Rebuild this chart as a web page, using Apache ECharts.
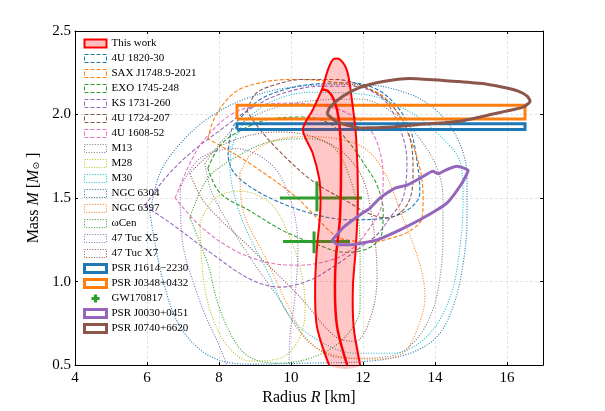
<!DOCTYPE html>
<html>
<head>
<meta charset="utf-8">
<script src="https://cdn.jsdelivr.net/npm/echarts@6/dist/echarts.min.js"></script>
<style>
html, body { margin: 0; padding: 0; background: #fff; }
#chart { width: 605px; height: 411px; }
</style>
</head>
<body>
<div id="chart"></div>
<script>
// contours, [radius km, mass Msun]
const u1820 = [[8.25,1.754],[8.36,1.914],[8.64,1.99],[9.14,2.09],[9.83,2.15],[10.53,2.18],[11.64,2.19],[12.39,2.15],[12.94,2.05],[13.31,1.914],[13.5,1.72],[13.58,1.53],[13.31,1.44],[12.67,1.38],[11.64,1.37],[10.53,1.41],[9.42,1.5],[8.72,1.59],[8.36,1.67]]
const sax1748 = [[7.69,1.855],[7.89,1.985],[8.44,2.133],[9.19,2.192],[10.03,2.21],[11.28,2.192],[12.39,2.133],[12.94,2.015],[13.31,1.855],[13.58,1.678],[13.67,1.5],[13.64,1.38],[13.31,1.305],[12.83,1.263],[12.19,1.234],[11.64,1.246],[11.22,1.275],[10.17,1.5],[8.94,1.695],[8.03,1.814]]
const exo1745 = [[7.69,1.678],[8.03,1.814],[8.58,1.902],[9.42,1.973],[10.33,1.985],[11.08,1.944],[11.64,1.825],[12.06,1.695],[12.39,1.577],[12.56,1.423],[12.53,1.293],[12.19,1.204],[11.5,1.175],[10.72,1.222],[9.78,1.305],[8.86,1.423],[8.03,1.53]]
const ks1731 = [[5.94,1.453],[6.5,1.618],[7.19,1.766],[8.08,1.914],[8.86,2.033],[9.69,2.121],[10.81,2.169],[11.72,2.169],[12.56,2.092],[13.03,1.914],[13.22,1.719],[13.11,1.5],[12.75,1.382],[12.39,1.281],[11.92,1.204],[11.28,1.104],[10.53,1.009],[9.69,0.967],[8.86,1.015],[7.75,1.175],[6.64,1.352]]
const u1724 = [[8.78,2.021],[9.0,2.121],[9.42,2.169],[10.33,2.21],[11.22,2.21],[12.19,2.151],[12.89,2.033],[13.31,1.855],[13.39,1.648],[13.31,1.5],[13.03,1.411],[12.61,1.382],[12.06,1.417],[11.64,1.47],[10.61,1.6],[9.69,1.778],[9.08,1.926]]
const u1608 = [[6.78,1.5],[7.19,1.707],[7.61,1.855],[8.36,2.003],[9.14,2.056],[9.97,2.068],[11.08,2.044],[11.72,1.991],[12.19,1.914],[12.47,1.778],[12.56,1.618],[12.53,1.47],[12.19,1.322],[11.64,1.186],[11.17,1.133],[10.25,1.098],[9.33,1.115],[8.39,1.192],[7.47,1.334]]
const m13 = [[7.61,1.707],[8.58,1.944],[10.25,2.074],[11.92,2.092],[12.89,2.003],[13.58,1.855],[14.06,1.678],[14.22,1.5],[14.22,1.263],[14.14,1.027],[13.92,0.82],[13.44,0.642],[12.75,0.553],[11.78,0.541],[11.0,0.565],[10.25,0.7],[9.69,0.89],[8.86,1.145],[7.83,1.518]]
const m28 = [[7.47,1.352],[7.89,1.5],[8.58,1.541],[9.42,1.47],[9.97,1.263],[10.31,1.027],[10.39,0.82],[10.19,0.642],[9.69,0.541],[8.86,0.524],[8.25,0.612],[7.81,0.79],[7.56,1.027]]
const m30 = [[8.72,1.962],[8.39,1.825],[8.31,1.678],[8.5,1.459],[8.86,1.263],[9.33,1.068],[9.97,0.79],[10.81,0.642],[11.78,0.571],[12.83,0.571],[13.78,0.672],[14.42,0.908],[14.69,1.204],[14.78,1.5],[14.69,1.719],[14.22,1.855],[13.31,2.015],[12.0,2.121],[10.53,2.133],[9.42,2.074]]
const ngc6304 = [[6.08,1.411],[6.36,1.648],[6.92,1.825],[7.75,1.985],[8.86,2.104],[10.25,2.169],[11.92,2.18],[13.31,2.121],[14.14,2.003],[14.69,1.825],[14.89,1.618],[14.89,1.382],[14.78,1.104],[14.5,0.849],[14.06,0.672],[13.31,0.571],[12.19,0.524],[10.53,0.512],[8.86,0.506],[7.75,0.553],[6.92,0.731],[6.42,1.027]]
const ngc6397 = [[8.58,1.648],[8.86,1.754],[9.42,1.837],[10.33,1.867],[11.28,1.855],[12.06,1.796],[12.61,1.648],[13.03,1.423],[13.58,1.104],[13.72,0.908],[13.5,0.713],[13.11,0.571],[12.39,0.536],[11.64,0.541],[10.53,0.63],[9.97,0.831],[9.33,1.127],[8.67,1.423]]
const omegaCen = [[7.19,1.382],[7.69,1.618],[8.5,1.749],[9.42,1.837],[10.53,1.855],[11.22,1.796],[11.64,1.618],[11.86,1.411],[11.92,1.104],[11.92,0.849],[11.44,0.654],[10.53,0.541],[9.56,0.512],[8.81,0.553],[8.36,0.672],[7.97,0.867],[7.69,1.104]]
const tucX5 = [[6.92,1.559],[7.47,1.737],[8.44,1.796],[9.42,1.707],[9.97,1.5],[10.19,1.204],[10.11,0.908],[9.97,0.672],[9.92,0.376],[8.86,0.317],[7.89,0.672],[7.33,0.967],[6.97,1.263]]
const tucX7 = [[7.19,1.648],[8.17,1.825],[9.69,1.896],[11.08,1.825],[11.92,1.648],[12.25,1.382],[12.39,1.027],[12.19,0.772],[11.78,0.642],[11.22,0.672],[10.25,0.908],[8.86,1.204],[7.61,1.47]]

// red band: outer envelope and the inner line
const thisWorkOuter = [[11.06,0.5],[10.72,0.73],[10.67,0.97],[10.72,1.2],[10.8,1.38],[10.82,1.5],[10.78,1.62],[10.6,1.77],[10.33,1.91],[10.61,2.03],[10.86,2.15],[11.03,2.27],[11.17,2.33],[11.36,2.33],[11.56,2.26],[11.69,2.09],[11.81,1.86],[11.86,1.5],[11.8,1.2],[11.72,0.97],[11.74,0.73],[11.92,0.5]]
const thisWorkInner = [[10.86,2.15],[11.03,2.14],[11.19,2.09],[11.33,1.97],[11.39,1.74],[11.36,1.38],[11.25,1.15],[11.22,0.97],[11.28,0.73],[11.56,0.5]]

// pulsar mass bands
const j1614R = [8.5, 16.5]
const j1614M = [1.911, 1.945]
const j0348R = [8.5, 16.5]
const j0348M = [1.973, 2.056]

// GW170817 points with error bars
const gwR = [10.72, 10.64]
const gwRlo = [9.69, 9.78]
const gwRhi = [11.97, 11.64]
const gwM = [1.5, 1.24]
const gwMlo = [1.42, 1.17]
const gwMhi = [1.6, 1.3]

// NICER contours
const j0030 = [[11.14,1.246],[11.44,1.322],[11.92,1.4],[12.2,1.44],[12.47,1.5],[12.89,1.56],[13.22,1.577],[13.58,1.618],[13.94,1.66],[14.1,1.645],[14.28,1.666],[14.61,1.69],[14.92,1.666],[14.78,1.6],[14.56,1.53],[14.33,1.47],[14.06,1.43],[13.58,1.37],[13.03,1.31],[12.39,1.25],[11.64,1.22],[11.31,1.22]]
const j0740 = [[11.0,2.003],[11.28,1.956],[11.92,1.92],[12.83,1.926],[13.78,1.944],[14.69,1.96],[15.61,2.003],[16.44,2.044],[16.64,2.08],[16.56,2.11],[16.31,2.14],[15.89,2.163],[15.25,2.187],[14.22,2.204],[13.31,2.216],[12.56,2.198],[11.92,2.163],[11.44,2.11],[11.08,2.044]]

const serif = 'Liberation Serif'
const DASH = [4, 2]
const DOT = [1, 1.6]

function contour(name, data, color, dash) {
  return {
    name: name,
    type: 'line',
    data: data.concat([data[0]]),
    smooth: 0.35,
    symbol: 'none',
    clip: true,
    silent: true,
    z: 2,
    lineStyle: { color: color, width: 1.1, type: dash }
  }
}

function band(name, rs, ms, color) {
  return {
    name: name,
    type: 'line',
    data: [[rs[0], ms[0]], [rs[1], ms[0]], [rs[1], ms[1]], [rs[0], ms[1]], [rs[0], ms[0]]],
    symbol: 'none',
    silent: true,
    z: 3,
    lineStyle: { color: color, width: 3, join: 'miter' }
  }
}

const contours = [
  ['4U 1820-30', u1820, '#1f77b4', DASH],
  ['SAX J1748.9-2021', sax1748, '#ff7f0e', DASH],
  ['EXO 1745-248', exo1745, '#2ca02c', DASH],
  ['KS 1731-260', ks1731, '#9467bd', DASH],
  ['4U 1724-207', u1724, '#8c564b', DASH],
  ['4U 1608-52', u1608, '#e377c2', DASH],
  ['M13', m13, '#7f7f7f', DOT],
  ['M28', m28, '#bcbd22', DOT],
  ['M30', m30, '#17becf', DOT],
  ['NGC 6304', ngc6304, '#1f77b4', DOT],
  ['NGC 6397', ngc6397, '#ff7f0e', DOT],
  ['ωCen', omegaCen, '#2ca02c', DOT],
  ['47 Tuc X5', tucX5, '#9467bd', DOT],
  ['47 Tuc X7', tucX7, '#8c564b', DOT]
]

const legendData = [
  { name: 'This work', icon: 'rect', itemStyle: { color: 'rgba(255,0,0,0.25)', borderColor: '#ff0000', borderWidth: 2 } }
]
contours.forEach(c => {
  legendData.push({ name: c[0], icon: 'rect', itemStyle: { color: '#fff', borderColor: c[2], borderWidth: 1, borderType: c[3] } })
})
legendData.push(
  { name: 'PSR J1614\u22122230', icon: 'rect', itemStyle: { color: '#fff', borderColor: '#1f77b4', borderWidth: 3 } },
  { name: 'PSR J0348+0432', icon: 'rect', itemStyle: { color: '#fff', borderColor: '#ff7f0e', borderWidth: 3 } },
  { name: 'GW170817', icon: 'path://M3,0h4v3h3v4h-3v3h-4v-3h-3v-4h3z', itemStyle: { color: '#2ca02c', borderWidth: 0 } },
  { name: 'PSR J0030+0451', icon: 'rect', itemStyle: { color: '#fff', borderColor: '#9467bd', borderWidth: 3 } },
  { name: 'PSR J0740+6620', icon: 'rect', itemStyle: { color: '#fff', borderColor: '#8c564b', borderWidth: 3 } }
)

const series = contours.map(c => contour(c[0], c[1], c[2], c[3]))
series.push(band('PSR J1614\u22122230', j1614R, j1614M, '#1f77b4'))
series.push(band('PSR J0348+0432', j0348R, j0348M, '#ff7f0e'))
series.push({
  name: 'GW170817',
  type: 'custom',
  z: 3,
  silent: true,
  data: gwR.map((r, i) => [r, gwM[i]]),
  renderItem(params, api) {
    const i = params.dataIndex
    const l = api.coord([gwRlo[i], gwM[i]])
    const r = api.coord([gwRhi[i], gwM[i]])
    const b = api.coord([gwR[i], gwMlo[i]])
    const t = api.coord([gwR[i], gwMhi[i]])
    const st = { stroke: '#2ca02c', lineWidth: 3 }
    return {
      type: 'group',
      children: [
        { type: 'line', shape: { x1: l[0], y1: l[1], x2: r[0], y2: r[1] }, style: st },
        { type: 'line', shape: { x1: b[0], y1: b[1], x2: t[0], y2: t[1] }, style: st }
      ]
    }
  }
})
series.push({
  name: 'This work',
  type: 'custom',
  z: 4,
  silent: true,
  data: [thisWorkOuter[0]],
  renderItem(params, api) {
    const pts = thisWorkOuter.map(p => api.coord(p))
    return {
      type: 'group',
      children: [
        { type: 'polygon', shape: { points: pts, smooth: 0.3 }, style: { fill: 'rgba(255,0,0,0.22)', stroke: 'none' } },
        { type: 'polyline', shape: { points: pts, smooth: 0.3 }, style: { stroke: '#ff0000', lineWidth: 2, fill: 'none' } }
      ]
    }
  }
})
series.push({
  name: 'this work inner',
  type: 'line',
  data: thisWorkInner,
  smooth: 0.3,
  symbol: 'none',
  silent: true,
  z: 5,
  lineStyle: { color: '#ff0000', width: 2.5 }
})
series.push({
  name: 'PSR J0030+0451',
  type: 'line',
  data: j0030.concat([j0030[0]]),
  smooth: 0.15,
  symbol: 'none',
  silent: true,
  z: 6,
  lineStyle: { color: '#9467bd', width: 3 }
})
series.push({
  name: 'PSR J0740+6620',
  type: 'line',
  data: j0740.concat([j0740[0]]),
  smooth: 0.2,
  symbol: 'none',
  silent: true,
  z: 6,
  lineStyle: { color: '#8c564b', width: 3 }
})

const chart = echarts.init(document.getElementById('chart'), null, { renderer: 'canvas' })
chart.setOption({
  animation: false,
  backgroundColor: '#fff',
  textStyle: { fontFamily: serif },
  grid: { left: 75, right: 62, top: 31, bottom: 42 },
  legend: {
    orient: 'vertical',
    left: 79,
    top: 34,
    data: legendData,
    selectedMode: false,
    itemWidth: 22,
    itemHeight: 8,
    itemGap: 4,
    padding: [4, 6, 4, 4],
    textStyle: { fontFamily: serif, fontSize: 11, color: '#000' }
  },
  xAxis: [{
    type: 'value',
    min: 4,
    max: 17,
    interval: 2,
    name: '{t|Radius }{i|R}{t| [km]}',
    nameLocation: 'middle',
    nameGap: 24,
    nameTextStyle: {
      rich: {
        t: { fontFamily: serif, fontSize: 16, color: '#000' },
        i: { fontFamily: serif, fontSize: 16, fontStyle: 'italic', color: '#000' }
      }
    },
    axisLine: { onZero: false, lineStyle: { color: '#000', width: 1 } },
    axisTick: { inside: true, length: 3, lineStyle: { color: '#000' } },
    axisLabel: { fontFamily: serif, fontSize: 15, color: '#000', margin: 5, showMaxLabel: false },
    splitLine: { show: true, lineStyle: { color: '#e4e4e4', width: 1, type: [3, 2] } }
  }, {
    type: 'value',
    position: 'top',
    min: 4,
    max: 17,
    interval: 2,
    axisLine: { onZero: false, lineStyle: { color: '#000', width: 1 } },
    axisTick: { inside: true, length: 3, lineStyle: { color: '#000' } },
    axisLabel: { show: false },
    splitLine: { show: false }
  }],
  yAxis: [{
    type: 'value',
    min: 0.5,
    max: 2.5,
    interval: 0.5,
    name: '{t|Mass }{i|M}{t| [}{i|M}{s|⊙}{t| ]}',
    nameLocation: 'middle',
    nameGap: 30,
    nameTextStyle: {
      rich: {
        t: { fontFamily: serif, fontSize: 16, color: '#000' },
        i: { fontFamily: serif, fontSize: 16, fontStyle: 'italic', color: '#000' },
        s: { fontFamily: 'DejaVu Sans', fontSize: 9, color: '#000', verticalAlign: 'bottom', padding: [6, 0, 0, 0] }
      }
    },
    axisLine: { onZero: false, lineStyle: { color: '#000', width: 1 } },
    axisTick: { inside: true, length: 3, lineStyle: { color: '#000' } },
    axisLabel: { fontFamily: serif, fontSize: 15, color: '#000', margin: 4, formatter: v => v.toFixed(1) },
    splitLine: { show: true, lineStyle: { color: '#e4e4e4', width: 1, type: [3, 2] } }
  }, {
    type: 'value',
    position: 'right',
    min: 0.5,
    max: 2.5,
    interval: 0.5,
    axisLine: { onZero: false, lineStyle: { color: '#000', width: 1 } },
    axisTick: { inside: true, length: 3, lineStyle: { color: '#000' } },
    axisLabel: { show: false },
    splitLine: { show: false }
  }],
  series: series
})
</script>
</body>
</html>
